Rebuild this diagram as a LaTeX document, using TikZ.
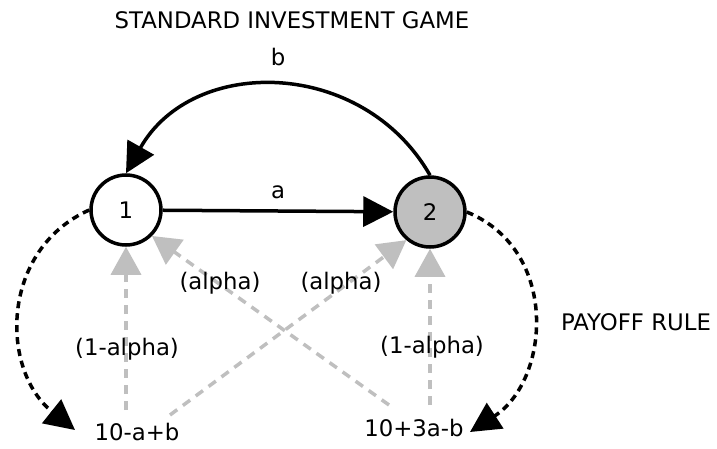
\documentclass[tikz,border=0pt]{standalone}
\usepackage{fontspec}
\setmainfont{DejaVu Sans}
\usetikzlibrary{arrows.meta,calc}
\begin{document}
\begin{tikzpicture}[x=1pt,y=-1pt,
  every node/.style={font=\fontsize{22.8}{27}\selectfont, inner sep=0pt},
  player/.style={draw=black, circle, line width=3.5pt, minimum size=70pt},
  blackarrow/.style={line width=3.5pt, -{Triangle[length=30pt,width=30pt]}},
  blackdash/.style={line width=3.5pt, dash pattern=on 7pt off 5pt, -{Triangle[length=30pt,width=30pt]}},
  grayarrow/.style={line width=3.5pt, color=gray!50, dash pattern=on 9pt off 7pt, -{Triangle[length=28pt,width=30pt]}},
  lbl/.style={}]
\useasboundingbox (0,0) rectangle (717,449);
\node[lbl] (title) at (292,20) {STANDARD INVESTMENT GAME};
\node[player, fill=white] (n1) at (126,210) {1};
\node[player, fill=gray!50] (n2) at (430,212) {2};
\node[lbl] (p1) at (137,432) {10-a+b};
\node[lbl] (p2) at (414,428) {10+3a-b};
\node[lbl] (pay) at (636,322) {PAYOFF RULE};
\coordinate (e1) at (75,430);
\coordinate (e2) at (470,432);
\coordinate (g1) at (126,410);
\coordinate (g2) at (170,415);
\coordinate (g3) at (389,405);
\coordinate (g4) at (430,405);
% main arrows
\draw[blackarrow] (n1) -- node[lbl, above=10pt] {a} (n2);
\draw[blackarrow] (n2.north) .. controls (363,58) and (193,55) .. node[lbl, above=18pt] {b} (n1.north);
% payoff dashed arrows
\draw[blackdash] (n1.west) .. controls (0,250) and (0,370) .. (e1);
\draw[blackdash] (n2.east) .. controls (560,250) and (550,380) .. (e2);
% gray arrows
\draw[grayarrow] (g1) -- (n1.south);
\draw[grayarrow] (g4) -- (n2.south);
\draw[grayarrow] (g2) -- (n2.-130);
\draw[grayarrow] (g3) -- (n1.-45);
\node[lbl] at (127,349) {(1-alpha)};
\node[lbl] at (432,347) {(1-alpha)};
\node[lbl] at (220,283) {(alpha)};
\node[lbl] at (341,283) {(alpha)};
\end{tikzpicture}
\end{document}
